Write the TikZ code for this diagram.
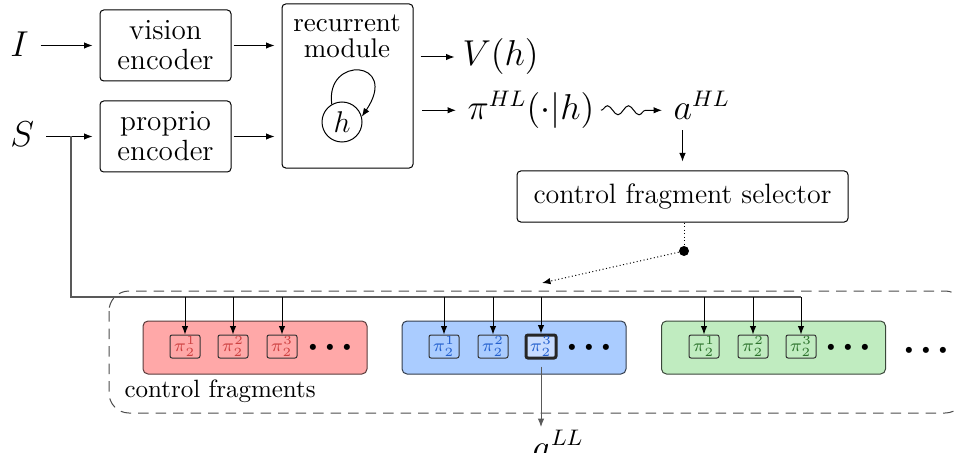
\documentclass[tikz,border=0pt]{standalone}
\usetikzlibrary{arrows.meta,decorations.pathmorphing}
\definecolor{fragred}{RGB}{255,168,168}
\definecolor{fragblue}{RGB}{170,204,255}
\definecolor{fraggreen}{RGB}{192,236,192}
\definecolor{txtred}{RGB}{205,65,65}
\definecolor{txtblue}{RGB}{35,95,205}
\definecolor{txtgreen}{RGB}{45,115,45}
\definecolor{hiblue}{RGB}{200,220,255}
\begin{document}
\begin{tikzpicture}[x=0.4pt,y=-0.4pt,
  tip/.style={-{Latex[length=3.4pt,width=2.6pt]}},
  blk/.style={draw, rounded corners=1.5pt, align=center, inner sep=0pt, font=\fontsize{11.7}{12}\selectfont},
  mlbl/.style={inner sep=0pt, anchor=base west, font=\fontsize{13.5}{15}\selectfont},
  frag/.style={rounded corners=2pt, minimum width=89.6pt, minimum height=21.2pt, inner sep=0pt},
  pib/.style={draw=black!80, rounded corners=0.8pt, minimum width=12pt, minimum height=9.2pt, inner sep=0pt, font=\fontsize{7.5}{8}\selectfont},
  dotsn/.style={inner sep=0pt, font=\fontsize{5}{6}\selectfont},
  feed/.style={draw=black!65, line width=0.5pt},
]
\useasboundingbox (0,0) rectangle (957,452);

% inputs
\node[mlbl] (I) at (10,57) {$I$};
\node[mlbl] (S) at (10,147) {$S$};

% encoders
\node[blk, minimum width=52.4pt, minimum height=28.4pt] (vis) at (165.5,45.5) {vision\\encoder};
\node[blk, minimum width=52.4pt, minimum height=28.4pt] (pro) at (165.5,136.5) {proprio\\encoder};

% recurrent module
\node[draw, rounded corners=1.5pt, minimum width=52.4pt, minimum height=65.6pt, inner sep=0pt] (rm) at (347.5,86) {};
\node[align=center, inner sep=0pt, font=\fontsize{10.8}{10.4}\selectfont] (rmt) at (347,36) {recurrent\\module};
\node[circle, draw, minimum size=16pt, inner sep=0pt, font=\fontsize{11.5}{12}\selectfont] (h) at (342,122) {$h$};
\draw[tip] (h.120) .. controls (325,55) and (400,60) .. (h.15);

% outputs
\node[mlbl] (Vh) at (462,66) {$V(h)$};
\node[mlbl] (pi) at (467,120) {$\pi^{HL}(\cdot|h)$};
\node[mlbl] (aHL) at (673,120) {$a^{HL}$};

\draw[tip, shorten <=4.5pt, shorten >=2.8pt] (I.east |- vis) -- (vis.west);
\draw[tip, shorten <=4.5pt, shorten >=2.8pt] (S.east |- pro) -- (pro.west);
\draw[tip, shorten <=0.8pt, shorten >=2.8pt] (vis.east) -- (vis.east -| rm.west);
\draw[tip, shorten <=0.8pt, shorten >=2.8pt] (pro.east) -- (pro.east -| rm.west);
\draw[tip, shorten <=2.8pt, shorten >=3pt] (rm.east |- Vh) -- (Vh.west |- Vh);
\draw[tip, shorten <=3.4pt, shorten >=4.4pt] (rm.east |- pi) -- (pi.west |- pi);
\draw[tip, decorate, decoration={snake, amplitude=1.8pt, segment length=8.4pt, post length=3.5pt}]
  ([xshift=2.4pt]pi.east |- pi) -- ([xshift=-4.4pt]aHL.west |- pi);

% selector
\node[blk, font=\fontsize{11.2}{12}\selectfont, minimum width=132.4pt, minimum height=20.4pt] (sel) at (682.5,196.5) {control fragment selector};
\draw[tip, shorten <=4pt, shorten >=3.6pt] (sel.north |- aHL.south) -- (sel.north);
\node[circle, fill, inner sep=0pt, minimum size=4pt] (dot) at (684,251) {};
\coordinate (dtgt) at (542,283);
\draw[densely dotted] (sel.south -| dot) -- (dot);
\draw[densely dotted, tip] (dot) -- (dtgt);

% control fragments container
\draw[dashed, dash pattern=on 4.2pt off 2.8pt, draw=black!70, rounded corners=8pt] (109,291) rectangle (965,413);
\node[inner sep=0pt, anchor=base west, font=\fontsize{10}{12}\selectfont] (cflbl) at (124,397) {control fragments};

% fragments
\node[frag, fill=fragred, draw=fragred!35!black] (fr) at (255,347.5) {};
\node[frag, fill=fragblue, draw=fragblue!30!black] (fb) at (514,347.5) {};
\node[frag, fill=fraggreen, draw=fraggreen!30!black] (fg) at (773.5,347.5) {};

\node[pib, text=txtred] (p11) at (185,346.5) {$\pi_2^1$};
\node[pib, text=txtred] (p12) at (233,346.5) {$\pi_2^2$};
\node[pib, text=txtred] (p13) at (282,346.5) {$\pi_2^3$};
\node[pib, text=txtblue] (p21) at (444,346.5) {$\pi_2^1$};
\node[pib, text=txtblue] (p22) at (493,346.5) {$\pi_2^2$};
\node[pib, text=txtblue, fill=hiblue, draw=black!85, line width=1.2pt] (p23) at (541,346.5) {$\pi_2^3$};
\node[pib, text=txtgreen] (p31) at (704,346.5) {$\pi_2^1$};
\node[pib, text=txtgreen] (p32) at (753,346.5) {$\pi_2^2$};
\node[pib, text=txtgreen] (p33) at (801,346.5) {$\pi_2^3$};

\node[dotsn] (d1) at (330,347) {$\bullet\hspace{1.5pt}\bullet\hspace{1.5pt}\bullet$};
\node[dotsn] (d2) at (589,347) {$\bullet\hspace{1.5pt}\bullet\hspace{1.5pt}\bullet$};
\node[dotsn] (d3) at (848,347) {$\bullet\hspace{1.5pt}\bullet\hspace{1.5pt}\bullet$};
\node[dotsn] (d4) at (926,350) {$\bullet\hspace{1.5pt}\bullet\hspace{1.5pt}\bullet$};

% proprio feed bus
\coordinate (busL) at (71,297);
\coordinate (jn) at (busL |- pro);
\draw[feed] (jn) -- (busL) -- (busL -| p33);
\foreach \p in {p11,p12,p13,p21,p22,p23,p31,p32,p33}
  \draw[tip] (busL -| \p) -- (\p.north);

% low-level action
\node[mlbl] (aLL) at (532,459) {$a^{LL}$};
\draw[tip, draw=black!65, shorten <=2.8pt, shorten >=1.2pt] (p23.south) -- (p23.south |- aLL.north);
\end{tikzpicture}
\end{document}
